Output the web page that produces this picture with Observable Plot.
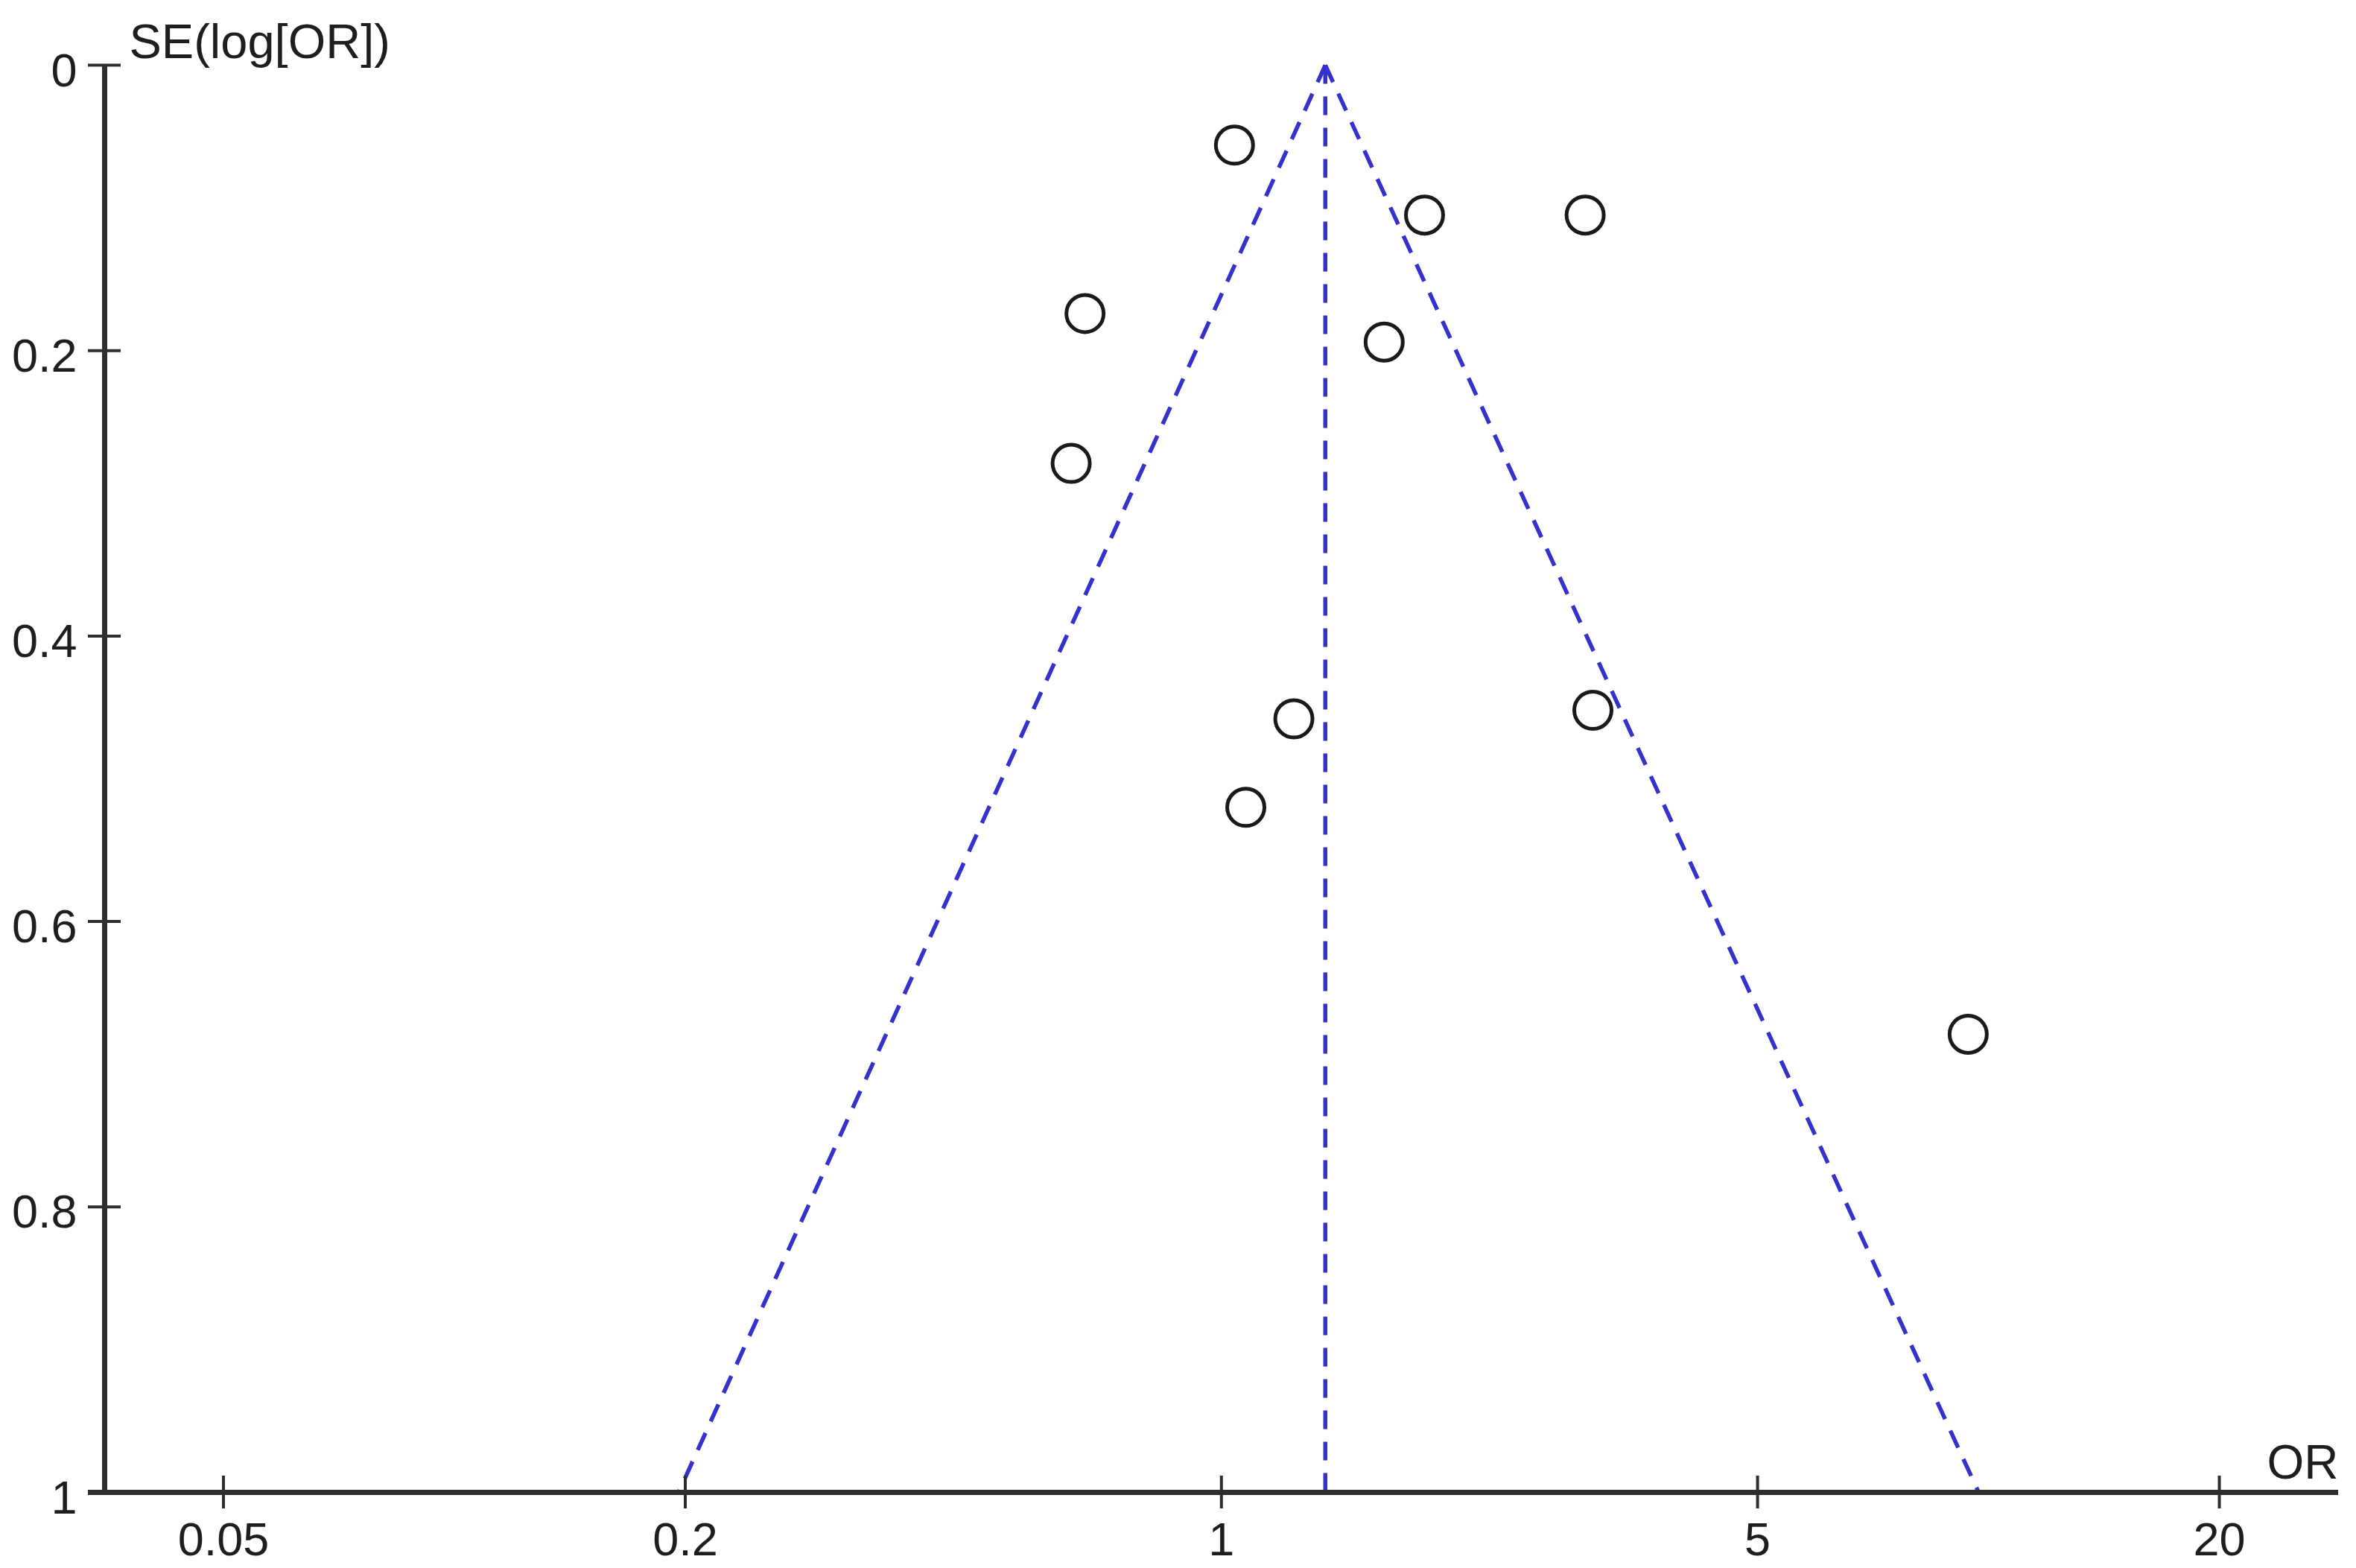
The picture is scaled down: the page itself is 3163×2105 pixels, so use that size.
<!DOCTYPE html>
<html>
<head>
<meta charset="utf-8">
<script src="https://cdn.jsdelivr.net/npm/d3@7"></script>
<script src="https://cdn.jsdelivr.net/npm/@observablehq/plot@0.6"></script>
<style>
  html, body { margin: 0; padding: 0; background: #ffffff; }
  #chart { width: 3163px; height: 2105px; }
</style>
</head>
<body>
<div id="chart"></div>
<script>
// ---- data ----
const studyOR = [1.04, 1.84, 2.98, 0.664, 1.63, 0.637, 1.243, 3.05, 1.076, 9.41];
const studySE = [0.056, 0.105, 0.105, 0.174, 0.194, 0.279, 0.458, 0.452, 0.520, 0.679];
const pooledOR = 1.366;           // apex / vertical dashed line
const funnelLowOR = 0.196;        // left dashed line at SE = 1
const funnelHighOR = 9.71;        // right dashed line at SE = 1
const xTicks = [0.05, 0.2, 1, 5, 20];
const xTickLabels = ["0.05", "0.2", "1", "5", "20"];
const yTicks = [0, 0.2, 0.4, 0.6, 0.8, 1];
const yTickLabels = ["0", "0.2", "0.4", "0.6", "0.8", "1"];
const xDomain = [0.035, 28.6];
const yDomain = [0, 1];
const xLabel = "OR";
const yLabel = "SE(log[OR])";

// ---- tables built from the arrays ----
const studies = studyOR.map((or, i) => ({or, se: studySE[i]}));
const funnel = [
  {g: "left",   or: pooledOR, se: 0}, {g: "left",   or: funnelLowOR,  se: 1},
  {g: "mid",    or: pooledOR, se: 0}, {g: "mid",    or: pooledOR,     se: 1},
  {g: "right",  or: pooledOR, se: 0}, {g: "right",  or: funnelHighOR, se: 1}
];
const xTickTable = xTicks.map((v, i) => ({v, label: xTickLabels[i]}));
const yTickTable = yTicks.map((v, i) => ({v, label: yTickLabels[i]}));

const FONT = "'Liberation Sans', Arial, Helvetica, sans-serif";
const FS = 63;
const AXIS = "#2e2e2e";
const TEXT = "#1e1e1e";
const BLUE = "#3333cc";

const chart = Plot.plot({
  width: 3163,
  height: 2105,
  marginLeft: 140,
  marginRight: 24,
  marginTop: 87,
  marginBottom: 102,
  style: {fontFamily: FONT, fontSize: FS + "px", background: "#ffffff", color: TEXT},
  x: {type: "log", domain: xDomain},
  y: {domain: yDomain, reverse: true},
  marks: [
    // funnel (dashed blue)
    Plot.line(funnel, {x: "or", y: "se", z: "g", stroke: BLUE, strokeWidth: 5.5,
      strokeDasharray: "25,17", strokeLinecap: "butt"}),
    // study points
    Plot.dot(studies, {x: "or", y: "se", r: 25, stroke: "#1a1a1a", strokeWidth: 5, fill: "none"}),
    // axis lines
    Plot.ruleX([xDomain[0]], {y1: yDomain[0], y2: yDomain[1], stroke: AXIS, strokeWidth: 7}),
    Plot.ruleY([yDomain[1]], {stroke: AXIS, strokeWidth: 7, insetLeft: -22}),
    // y ticks crossing the axis
    Plot.axisY({ticks: yTicks, tickSize: 44, dx: 22, tickFormat: () => "", label: null,
      stroke: AXIS, strokeWidth: 4}),
    // x ticks crossing the axis
    Plot.axisX({ticks: xTicks, tickSize: 44, dy: -22, tickFormat: () => "", label: null,
      stroke: AXIS, strokeWidth: 4}),
    // tick labels
    Plot.text(yTickTable, {y: "v", text: "label", frameAnchor: "left", dx: -37, dy: 8,
      textAnchor: "end", lineAnchor: "middle", fontSize: FS, fill: TEXT}),
    Plot.text(xTickTable, {x: "v", text: "label", frameAnchor: "bottom", dy: 40,
      textAnchor: "middle", lineAnchor: "top", fontSize: FS, fill: TEXT}),
    // axis titles
    Plot.text([yLabel], {frameAnchor: "top-left", text: d => d, dx: 33, dy: -10,
      textAnchor: "start", lineAnchor: "bottom", fontSize: 65, fill: TEXT}),
    Plot.text([xLabel], {frameAnchor: "bottom-right", text: d => d, dx: 0, dy: -19,
      textAnchor: "end", lineAnchor: "bottom", fontSize: 64, fill: TEXT})
  ]
});

document.getElementById("chart").appendChild(chart);
</script>
</body>
</html>
